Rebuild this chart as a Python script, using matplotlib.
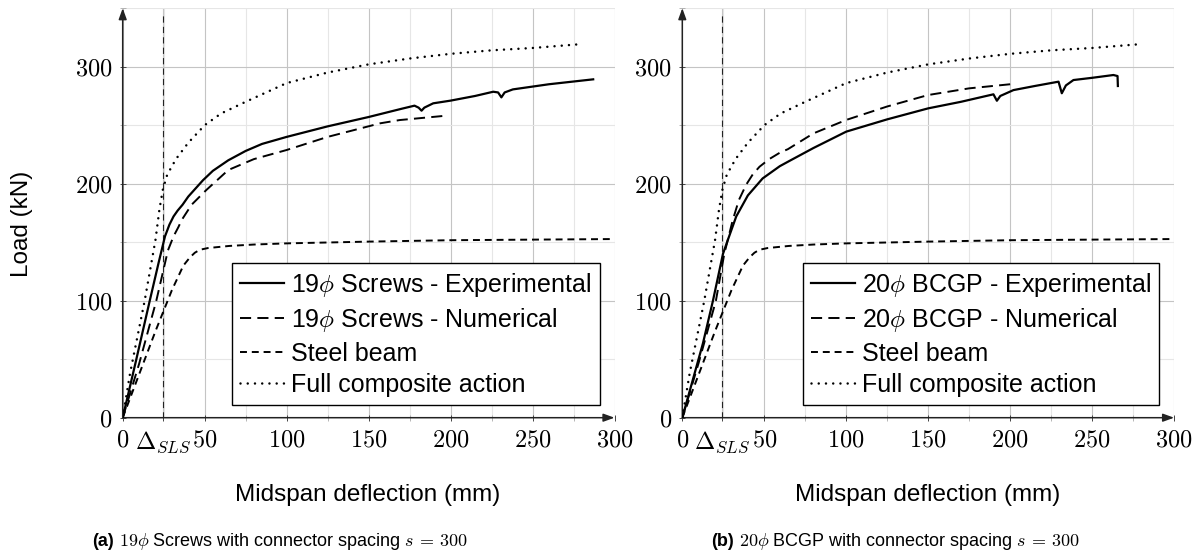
import matplotlib
matplotlib.use('Agg')
import matplotlib.pyplot as plt
from matplotlib.ticker import FixedLocator

plt.rcParams['mathtext.fontset'] = 'cm'
plt.rcParams['font.family'] = ['Liberation Sans', 'DejaVu Sans']
plt.rcParams['lines.scale_dashes'] = False

# ---------------- data ----------------
D_SLS = 24.4

x_ticks = [0, D_SLS, 50, 100, 150, 200, 250, 300]
x_tick_labels = ['$0$', r'$\Delta_{SLS}$', '$50$', '$100$', '$150$', '$200$', '$250$', '$300$']
y_ticks = [0, 100, 200, 300]
y_tick_labels = ['$0$', '$100$', '$200$', '$300$']

steel_x = [0, 20, 30, 37, 41, 44, 47, 52, 65, 80, 100, 150, 200, 250, 300]
steel_y = [0, 74, 109, 130, 137, 141, 143.5, 145, 146.8, 148, 149, 150.5, 151.7, 152.2, 152.7]

full_x = [0, 4.5, 13.4, 20, 22.4, 24.5, 27, 30, 33, 40, 50, 60, 75, 100, 125, 150, 175, 200, 225, 250, 277]
full_y = [0, 38, 100, 152, 178, 195, 207, 215, 222, 235, 250, 260, 270, 286, 295, 302, 307, 311, 314, 316, 319]

exp_a_x = [0, 8, 16.5, 22, 25.8, 28.5, 31, 33.5, 36.5, 40, 49, 55, 64.4, 75, 85, 100, 125, 150, 170,
           178, 180.5, 182.3, 184, 189.4, 200, 215, 226, 229, 231, 233, 238, 260, 287]
exp_a_y = [0, 48, 100, 133, 155, 165, 172, 177, 182, 189, 203, 211, 220, 228, 234, 240, 249, 257, 264,
           266.7, 265, 262.4, 265, 268.7, 271, 275, 278.6, 278, 273.8, 278, 280.6, 285, 289.2]

num_a_x = [0, 10, 20.5, 27.6, 31, 34, 36, 42, 51, 64.4, 80, 100, 125, 157, 169, 185, 195.5]
num_a_y = [0, 46, 100, 143, 155, 163, 169, 182, 194.6, 211.7, 221, 228.8, 240, 251.6, 254.4, 256.5, 257.9]

exp_b_x = [0, 12.6, 18.7, 24.8, 27.8, 32.9, 40, 49, 59.5, 65.4, 80, 100, 125, 150, 170, 189.8,
           191.9, 194, 202, 215, 229.5, 231.5, 234, 238.6, 250, 263, 265.5, 265.7]
exp_b_y = [0, 63.6, 100, 140, 152, 172, 190, 204.5, 215, 219.5, 230.5, 244.5, 255, 264.4, 270, 276.4,
           270.9, 275, 280, 283.5, 287.2, 277.3, 284, 288.6, 290.5, 292.9, 292, 283.5]

num_b_x = [0, 10, 20.5, 25.6, 30.7, 34.5, 38.9, 43, 47.1, 53, 59.5, 64.4, 80, 100, 125, 150, 175, 200, 203]
num_b_y = [0, 47, 100, 140, 168.5, 186, 199, 208, 214.5, 221, 226.5, 229.5, 243, 254.5, 266, 275.8, 281.5, 285, 284.7]

labels_a = [r'19$\phi$ Screws - Experimental', r'19$\phi$ Screws - Numerical',
            'Steel beam', 'Full composite action']
labels_b = [r'20$\phi$ BCGP - Experimental', r'20$\phi$ BCGP - Numerical',
            'Steel beam', 'Full composite action']

# ---------------- figure ----------------
W, H = 1203, 556
fig = plt.figure(figsize=(W / 100, H / 100), dpi=100)


def rect(x0, x1, y0, y1):
    return [x0 / W, 1 - y0 / H, (x1 - x0) / W, (y0 - y1) / H]


axA = fig.add_axes(rect(122.7, 614.5, 417.7, 8.2))
axB = fig.add_axes(rect(682.3, 1174.1, 417.7, 8.2))

FS = 17.5


def style(ax):
    ax.set_xlim(0, 300)
    ax.set_ylim(0, 350)
    for s in ax.spines.values():
        s.set_visible(False)
    ax.set_xticks(x_ticks)
    ax.set_xticklabels(x_tick_labels)
    ax.set_yticks(y_ticks)
    ax.set_yticklabels(y_tick_labels)
    ax.xaxis.set_minor_locator(FixedLocator([75, 125, 175, 225, 275]))
    ax.yaxis.set_minor_locator(FixedLocator([50, 150, 250, 350]))
    ax.tick_params(which='major', direction='inout', length=5, width=0.7, color='#444444',
                   labelsize=FS, pad=5)
    ax.tick_params(axis='x', which='major', pad=6)
    ax.tick_params(which='minor', direction='inout', length=4, width=0.6, color='#aaaaaa')
    ax.set_axisbelow(True)
    ax.grid(which='major', color='#c4c4c4', lw=0.8)
    ax.grid(which='minor', color='#e6e6e6', lw=0.8)
    ax.plot([25, 25], [0, 350], color='#e6e6e6', lw=0.8, zorder=0.5)
    arrow = dict(arrowstyle='-|>,head_length=0.55,head_width=0.2', lw=1.1, color='#222222',
                 shrinkA=0, shrinkB=0, mutation_scale=12)
    ax.annotate('', xy=(0, 1.0), xytext=(0, 0), xycoords='axes fraction',
                textcoords='axes fraction', arrowprops=arrow, annotation_clip=False)
    ax.annotate('', xy=(1.0, 0), xytext=(0, 0), xycoords='axes fraction',
                textcoords='axes fraction', arrowprops=arrow, annotation_clip=False)
    ax.plot([D_SLS, D_SLS], [0, 345], color='#222222', lw=0.8, dashes=(4.5, 3), zorder=2)


def curves(ax, ex, ey, nx, ny, labels, anchor_x):
    h1, = ax.plot(ex, ey, color='k', lw=1.6, solid_joinstyle='round', zorder=4)
    h2, = ax.plot(nx, ny, color='k', lw=1.4, dashes=(8, 4.5), zorder=4)
    h3, = ax.plot(steel_x, steel_y, color='k', lw=1.4, dashes=(5, 3.5), zorder=4)
    h4, = ax.plot(full_x, full_y, color='k', lw=1.8, linestyle=(0, (0.01, 5.2)),
                  dash_capstyle='round', zorder=4)
    leg = ax.legend([h1, h2, h3, h4], labels, loc='lower right',
                    bbox_to_anchor=(anchor_x, 0.031), borderaxespad=0,
                    fontsize=18, handlelength=1.75, handletextpad=0.3,
                    labelspacing=0.3, borderpad=0.32, fancybox=False,
                    edgecolor='k', framealpha=1)
    leg.get_frame().set_linewidth(1.0)
    leg.set_zorder(5)


style(axA)
style(axB)
curves(axA, exp_a_x, exp_a_y, num_a_x, num_a_y, labels_a, 0.9695)
curves(axB, exp_b_x, exp_b_y, num_b_x, num_b_y, labels_b, 0.970)

fig.text(22 / W, 1 - 224 / H, 'Load (kN)', rotation=90, ha='center', va='center', fontsize=17.5)
fig.text(368 / W, 1 - 495 / H, 'Midspan deflection (mm)', ha='center', va='center', fontsize=17.5)
fig.text(928 / W, 1 - 495 / H, 'Midspan deflection (mm)', ha='center', va='center', fontsize=17.5)

# captions
CFS = 13
fig.canvas.draw()
r = fig.canvas.get_renderer()
for x0, lab, rest in [(92, '(a)', r' $19\phi$ Screws with connector spacing $s\,=\,300$'),
                      (711, '(b)', r' $20\phi$ BCGP with connector spacing $s\,=\,300$')]:
    t = fig.text(x0 / W, 1 - 541 / H, lab, fontweight='bold', ha='left', va='center', fontsize=CFS)
    bb = t.get_window_extent(r)
    fig.text(bb.x1 / W, 1 - 541 / H, rest, ha='left', va='center', fontsize=CFS)

fig.savefig('out.png', dpi=100)
